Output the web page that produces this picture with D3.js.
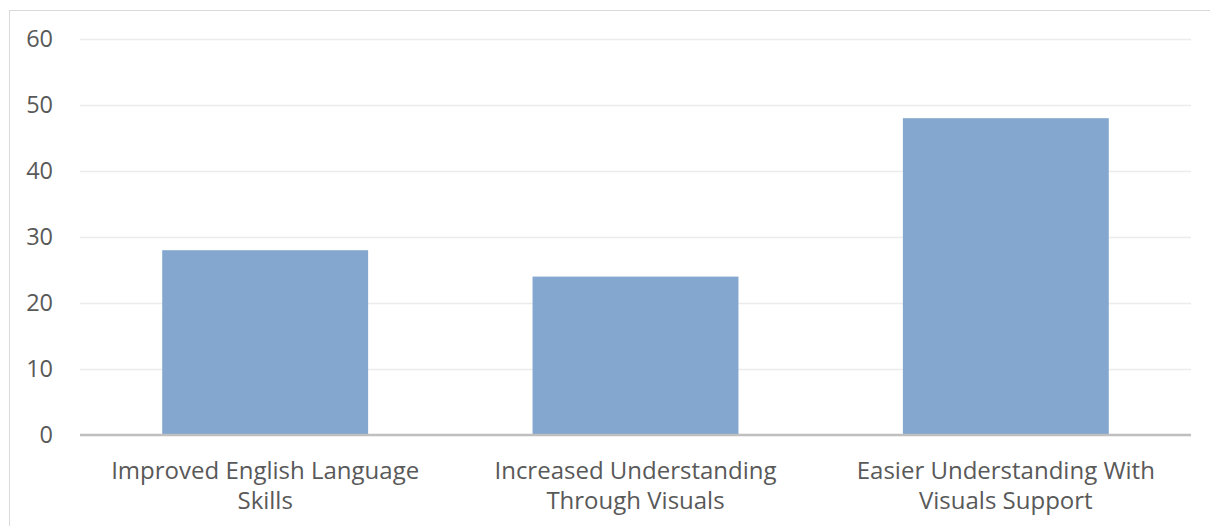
<!DOCTYPE html>
<html><head><meta charset="utf-8">
<script src="https://cdn.jsdelivr.net/npm/d3@7"></script>
<style>body{margin:0;background:#fff;}svg{display:block;}</style>
</head><body>
<svg id="c" width="1210" height="526"></svg>
<script>
const categories = [["Improved English Language", "Skills"], ["Increased Understanding", "Through Visuals"], ["Easier Understanding With", "Visuals Support"]];
const values = [28, 24, 48];
const yTicks = [0, 10, 20, 30, 40, 50, 60];

(function() {
const svg = d3.select("#c");
const mLeft = 80, mRight = 1191, mTop = 39, mBottom = 435;

svg.append("rect").attr("x", 9.5).attr("y", 10.5).attr("width", 1220).attr("height", 540)
  .attr("fill", "#fff").attr("stroke", "#d9d9d9").attr("stroke-width", 1);

const x = d3.scaleBand().domain(d3.range(categories.length)).range([mLeft, mRight]).paddingInner(0.444).paddingOuter(0.222);
const y = d3.scaleLinear().domain([0, 60]).range([mBottom, mTop]);

// gridlines
svg.append("g").selectAll("line").data(yTicks.filter(d => d > 0)).join("line")
  .attr("x1", mLeft).attr("x2", mRight)
  .attr("y1", d => y(d) + 0.5).attr("y2", d => y(d) + 0.5)
  .attr("stroke", "#ececec").attr("stroke-width", 1.5);

// y tick labels
const yAxis = d3.axisLeft(y).tickValues(yTicks).tickSize(0).tickPadding(0);
const gy = svg.append("g").attr("transform", `translate(53,0)`).call(yAxis);
gy.select(".domain").remove();
gy.selectAll("text").attr("font-family", "Open Sans, sans-serif").attr("font-size", 23.5).attr("fill", "#595959");

// bars
svg.append("g").selectAll("rect").data(values).join("rect")
  .attr("x", (d, i) => x(i)).attr("width", x.bandwidth())
  .attr("y", d => y(d)).attr("height", d => y(0) - y(d))
  .attr("fill", "#83a7cf");

// x axis line
svg.append("line").attr("x1", mLeft).attr("x2", mRight).attr("y1", mBottom).attr("y2", mBottom)
  .attr("stroke", "#bfbfbf").attr("stroke-width", 2.5);

// category labels
const xl = svg.append("g").selectAll("text").data(categories).join("text")
  .attr("x", (d, i) => x(i) + x.bandwidth() / 2)
  .attr("y", 479)
  .attr("text-anchor", "middle")
  .attr("font-family", "Open Sans, sans-serif").attr("font-size", 24).attr("fill", "#595959");
xl.each(function(d) {
  const t = d3.select(this);
  const cx = t.attr("x");
  d.forEach((line, k) => t.append("tspan").attr("x", cx).attr("dy", k === 0 ? 0 : 30).text(line));
});
})();
</script>
</body></html>
